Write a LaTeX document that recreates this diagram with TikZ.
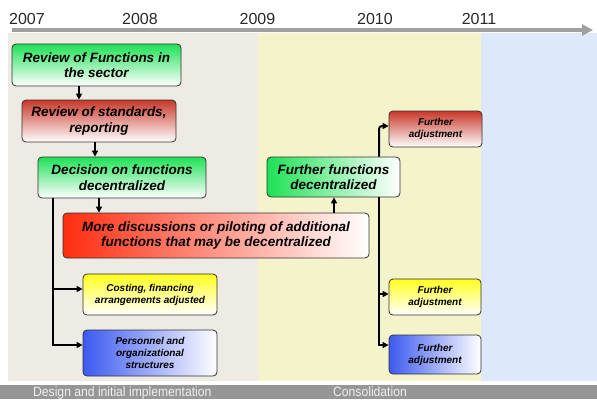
\documentclass[tikz,border=0pt]{standalone}
\usepackage{fontspec}
\setmainfont{Liberation Sans}
\newfontfamily\barfont[FakeStretch=0.9]{Liberation Sans}
\usetikzlibrary{arrows.meta}

\definecolor{bgbeige}{RGB}{238,235,229}
\definecolor{bgyellow}{RGB}{245,243,203}
\definecolor{bgblue}{RGB}{221,232,251}
\definecolor{bargray}{RGB}{150,150,150}
\definecolor{axisgray}{RGB}{160,160,160}
\definecolor{yeartext}{RGB}{40,40,40}
\definecolor{fgreen}{RGB}{30,225,85}
\definecolor{fred}{RGB}{200,55,40}
\definecolor{fbigred}{RGB}{255,45,15}
\definecolor{fyellow}{RGB}{255,255,30}
\definecolor{fblue}{RGB}{60,90,240}
\definecolor{frame}{RGB}{50,50,50}

\tikzset{
  box/.style={draw=frame, line width=0.8pt, rounded corners=4pt, align=center,
    inner sep=0pt, text=black},
  bigtext/.style={font=\bfseries\itshape\fontsize{13.5}{15.5}\selectfont},
  smalltext/.style={font=\bfseries\itshape\fontsize{10}{12}\selectfont},
  year/.style={font=\fontsize{16}{18}\selectfont, text=yeartext, anchor=base, inner sep=0pt},
  phase/.style={font=\barfont\fontsize{13.5}{15}\selectfont, text=white!94!black, anchor=base west, inner sep=0pt},
  conn/.style={line width=1.5pt, -{Triangle[length=6pt,width=6pt]}},
  spine/.style={line width=2pt, -{Triangle[length=6pt,width=6pt]}},
}

\begin{document}
\begin{tikzpicture}[x=1pt,y=-1pt]
  \useasboundingbox (0,0) rectangle (597,399);

  % period backgrounds
  \fill[bgbeige]  (8,33)   rectangle (258,381);
  \fill[bgyellow] (258,33) rectangle (481,381);
  \fill[bgblue]   (481,33) rectangle (597,381);
  \fill[bargray]  (0,385)  rectangle (597,399);

  % time axis
  \coordinate (axisL) at (12,30);
  \coordinate (axisR) at (593,30);
  \draw[axisgray, line width=4pt, -{Triangle[length=11pt,width=11pt]}] (axisL) -- (axisR);

  \node[year] (y2007) at (27,24)    {2007};
  \node[year] (y2008) at (140,24)   {2008};
  \node[year] (y2009) at (257.5,24) {2009};
  \node[year] (y2010) at (375,24)   {2010};
  \node[year] (y2011) at (479,24)   {2011};

  % phases
  \node[phase] (design) at (33,396)  {Design and initial implementation};
  \node[phase] (consol) at (333,396) {Consolidation};

  % boxes
  \node[box, bigtext, minimum width=169pt, minimum height=42pt,
        top color=fgreen, bottom color=white] (rev) at (96.5,65)
        {Review of Functions in\\the sector};
  \node[box, bigtext, minimum width=154pt, minimum height=42pt,
        top color=fred, bottom color=white] (std) at (99,121)
        {Review of standards,\\reporting};
  \node[box, bigtext, minimum width=168pt, minimum height=41pt,
        top color=fgreen, bottom color=white] (dec) at (122,177.5)
        {Decision on functions\\decentralized};
  \node[box, bigtext, minimum width=306pt, minimum height=45pt,
        left color=fbigred, right color=white] (more) at (216,235.5)
        {More discussions or piloting of additional\\functions that may be decentralized};
  \node[box, bigtext, minimum width=133pt, minimum height=40pt,
        left color=fgreen, right color=white] (ffd) at (333.5,177)
        {Further functions\\decentralized};
  \node[box, smalltext, minimum width=134pt, minimum height=41pt,
        top color=fyellow, bottom color=white] (cost) at (150,294.5)
        {Costing, financing\\arrangements adjusted};
  \node[box, smalltext, minimum width=134pt, minimum height=46pt,
        left color=fblue, right color=white] (pers) at (150,353)
        {Personnel and\\organizational\\structures};
  \node[box, smalltext, minimum width=93pt, minimum height=36pt,
        top color=fred, bottom color=white] (adjA) at (435.5,129)
        {Further\\adjustment};
  \node[box, smalltext, minimum width=92pt, minimum height=36pt,
        top color=fyellow, bottom color=white] (adjB) at (435,297)
        {Further\\adjustment};
  \node[box, smalltext, minimum width=92pt, minimum height=39pt,
        left color=fblue, right color=white] (adjC) at (435,354.5)
        {Further\\adjustment};

  % connector columns
  \coordinate (c1) at (79,0);
  \coordinate (c2) at (95,0);
  \coordinate (c3) at (99,0);
  \coordinate (c4) at (334,0);
  \coordinate (sL) at (53,0);
  \coordinate (sR) at (379,0);

  \draw[conn] (rev.south -| c1) -- (std.north -| c1);
  \draw[conn] (std.south -| c2) -- (dec.north -| c2);
  \draw[conn] (dec.south -| c3) -- (more.north -| c3);
  \draw[conn] (more.north -| c4) -- (ffd.south -| c4);

  \draw[spine] (dec.south -| sL) |- ([yshift=5.5pt]cost.west);
  \draw[spine] (dec.south -| sL) |- ([yshift=8pt]pers.west);

  \draw[spine, rounded corners=3pt] (ffd.north -| sR) |- ([yshift=3pt]adjA.west);
  \draw[spine] (ffd.south -| sR) |- ([yshift=3pt]adjB.west);
  \draw[spine] (ffd.south -| sR) |- ([yshift=9.5pt]adjC.west);
\end{tikzpicture}
\end{document}
